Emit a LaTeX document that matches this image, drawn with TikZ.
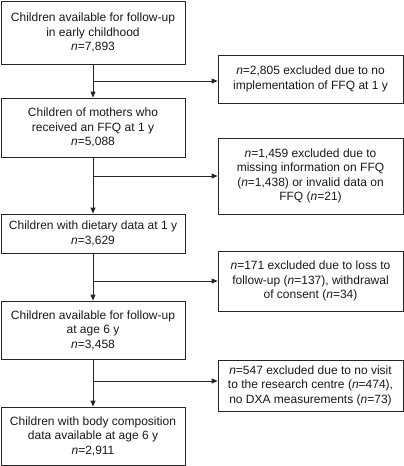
\documentclass[tikz,border=0pt]{standalone}
\usepackage{fontspec}
\setmainfont{Liberation Sans}
\usetikzlibrary{arrows.meta}
\begin{document}
\begin{tikzpicture}[x=1pt,y=1pt,
  box/.style={draw=black!85, line width=0.8pt, align=center, inner sep=2pt,
    font=\fontsize{12}{14.5}\selectfont, text=black!90},
  lbox/.style={box, minimum width=184pt},
  rbox/.style={box, minimum width=185pt},
  conn/.style={draw=black!85, line width=0.8pt, -{Triangle[length=6pt,width=5pt]}}]
\useasboundingbox (0,0) rectangle (404,-466);
\node[lbox, minimum height=63pt] (b1) at (93,-32.5) {Children available for follow-up\\in early childhood\\\textit{n}=7,893};
\node[rbox, minimum height=48pt] (r1) at (310.5,-79) {\textit{n}=2,805 excluded due to no\\implementation of FFQ at 1 y};
\node[lbox, minimum height=59pt] (b2) at (93,-127.5) {Children of mothers who\\received an FFQ at 1 y\\\textit{n}=5,088};
\node[rbox, minimum height=76pt] (r2) at (310.5,-176) {\textit{n}=1,459 excluded due to\\missing information on FFQ\\(\textit{n}=1,438) or invalid data on\\FFQ (\textit{n}=21)};
\node[lbox, minimum height=39pt] (b3) at (93,-233.5) {Children with dietary data at 1 y\\\textit{n}=3,629};
\node[rbox, minimum height=60pt] (r3) at (310.5,-281) {\textit{n}=171 excluded due to loss to\\follow-up (\textit{n}=137), withdrawal\\of consent (\textit{n}=34)};
\node[lbox, minimum height=58pt] (b4) at (93,-330) {Children available for follow-up\\at age 6 y\\\textit{n}=3,458};
\node[rbox, minimum height=51pt] (r4) at (310.5,-385.5) {\textit{n}=547 excluded due to no visit\\to the research centre (\textit{n}=474),\\no DXA measurements (\textit{n}=73)};
\node[lbox, minimum height=58pt] (b5) at (93,-436) {Children with body composition\\data available at age 6 y\\\textit{n}=2,911};
\coordinate (j1) at (93,-81);
\coordinate (j2) at (93,-176);
\coordinate (j3) at (93,-281);
\coordinate (j4) at (93,-381);
\draw[conn] (b1) -- (b2);
\draw[conn] (b2) -- (b3);
\draw[conn] (b3) -- (b4);
\draw[conn] (b4) -- (b5);
\draw[conn] (j1) -- (j1 -| r1.west);
\draw[conn] (j2) -- (j2 -| r2.west);
\draw[conn] (j3) -- (j3 -| r3.west);
\draw[conn] (j4) -- (j4 -| r4.west);
\end{tikzpicture}
\end{document}
